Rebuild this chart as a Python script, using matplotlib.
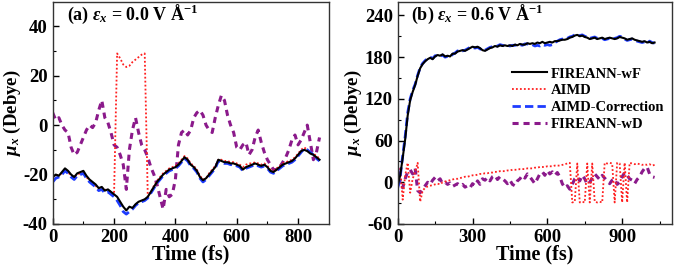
import matplotlib
matplotlib.use('Agg')
import matplotlib.pyplot as plt
import numpy as np

plt.rcParams['font.family'] = 'Liberation Serif'
plt.rcParams['font.weight'] = 'bold'
plt.rcParams['axes.labelweight'] = 'bold'
plt.rcParams['mathtext.fontset'] = 'custom'
plt.rcParams['mathtext.rm'] = 'Liberation Serif:bold'
plt.rcParams['mathtext.it'] = 'Liberation Serif:italic:bold'
plt.rcParams['mathtext.bf'] = 'Liberation Serif:bold'
plt.rcParams['axes.unicode_minus'] = False

# ---- panel (a): E = 0.0 V/A, every 10 fs ----
time_a = np.arange(0, 880, 10)
wF_a = [-21, -20, -20.5, -19, -17.5, -18.5, -20, -21, -19.5, -19,
        -18.5, -20.5, -22, -23, -24, -25.5, -25, -26.5, -26, -27,
        -28, -29, -31, -33, -34.5, -33, -33.5, -32, -31, -30.5,
        -30, -29, -27, -25, -23, -21.5, -20, -19, -18, -17.5,
        -17, -16, -14.5, -13, -14, -16, -17, -18.5, -21, -22.3,
        -21.5, -20, -18.5, -17, -14, -14.5, -15, -15, -15.5, -15.5,
        -16, -16.5, -18, -17, -16.5, -16, -15.5, -16, -16.5, -16,
        -17, -18.5, -19, -18, -17, -16, -15.5, -15, -14.5, -13.5,
        -12, -10.5, -10, -10.5, -11.5, -12, -13, -14]
aimd_a = [-21, -20.5, -20, -19.5, -18, -19, -20.5, -21, -20, -19.5,
          -19, -21, -22.5, -23.5, -24.5, -26, -25.5, -26, -26.5, -27,
          -28, 29, 27, 24.5, 23.5, 24, 25.5, 26.5, 27.5, 28.5,
          29, -29, -27, -24.5, -22.5, -21, -19.5, -18.5, -17.5, -17,
          -16.5, -15.5, -14, -12.5, -13.5, -15.5, -16.5, -18, -20.5, -22,
          -21.5, -19.5, -18, -16.5, -14, -14, -14.5, -14.5, -15, -15,
          -15.5, -16, -17, -16, -15.5, -15.5, -15, -15.5, -16, -15.5,
          -16.5, -18, -18.5, -17.5, -16.5, -15.5, -15, -14.5, -14, -13,
          -11.5, -10, -9, -10, -11, -11.5, -12.5, -13.5]
corr_a = [-23, -21.5, -21, -20, -18.5, -19.5, -21, -22, -20.5, -20,
          -19.5, -21.5, -23, -24, -25, -26.5, -26, -27.5, -27, -28,
          -29, -30.5, -32.5, -35, -36, -35, -34, -32.5, -31.5, -31,
          -30.5, -29.5, -27.5, -25.5, -23.5, -22, -20.5, -19.5, -18.5, -18,
          -17.5, -16.5, -15, -13.5, -14.5, -16.5, -17.5, -19, -21.5, -23,
          -22, -20.5, -19, -17.5, -14.5, -15, -15.5, -15.5, -16, -16,
          -16.5, -17, -18.5, -17.5, -17, -16.5, -16, -16.5, -17, -16.5,
          -17.5, -19, -19.5, -18.5, -17.5, -16.5, -16, -15.5, -15, -14,
          -12.5, -11, -9.5, -10, -11, -12, -13.5, -14.5]
wD_a = [5, 2, 3, 0, -2, -3, -9, -12, -11, -8,
        -5, -2, 0, -1, 1, 6, 10, 3, 1, -3,
        -8, -9, -12, -16, -26, -10, -2, 3, -3, -8,
        -10, -13, -17, -20, -24, -29, -34, -26, -29, -28,
        -22, -8, -3, -2, -4, -2, 3, 5, 6, 4,
        0, -2, -3, 3, 8, 12, 10, 4, 0, -3,
        -9, -10, -8, -7, -12, -10, -5, -2, -7, -11,
        -14, -16, -18, -18, -17, -15, -13, -10, -6, -4,
        -8, -6, -3, 0, -7, -14, -11, -5]

# ---- panel (b): E = 0.6 V/A, every 10 fs ----
time_b = np.arange(0, 1040, 10)
wF_b = [-5, 10, 35, 62, 96, 118, 130, 140, 153, 164,
        170, 174, 177, 179, 177, 181, 183, 182, 184, 181,
        182, 181, 185, 185, 188, 189, 190, 189, 191, 193,
        195, 194, 195, 193, 190, 189, 191, 193, 194, 196,
        195, 197, 196, 197, 196, 197, 196, 198, 197, 199,
        198, 198, 200, 199, 200, 199, 201, 200, 202, 200,
        201, 202, 201, 203, 203, 204, 205, 205, 206, 208,
        209, 211, 212, 210, 211, 209, 208, 206, 207, 208,
        206, 207, 208, 206, 207, 208, 207, 206, 207, 209,
        208, 207, 205, 206, 207, 205, 204, 203, 202, 203,
        201, 202, 200, 201]
corr_b = [-8, 8, 38, 66, 100, 120, 132, 141, 154, 165,
          171, 175, 178, 180, 178, 182, 182, 181, 183, 180,
          181, 180, 184, 186, 189, 188, 189, 190, 192, 194,
          194, 193, 194, 192, 189, 190, 192, 194, 195, 195,
          196, 198, 197, 196, 197, 196, 197, 197, 198, 198,
          197, 199, 199, 198, 198, 196, 197, 196, 198, 197,
          198, 197, 198, 201, 203, 205, 206, 206, 207, 209,
          210, 212, 211, 211, 212, 210, 209, 207, 208, 209,
          207, 208, 207, 205, 206, 207, 206, 207, 208, 210,
          209, 206, 204, 205, 206, 204, 203, 202, 201, 202,
          200, 203, 201, 200]
aimd_b = [-5, 20, -25, 10, 28, -15, 5, 15, 28, -28,
          -12, -8, -6, -5, -4, -3, -2, -3, 0, 1,
          2, 3, 4, 5, 5, 6, 7, 8, 8, 9,
          10, 10, 11, 12, 12, 13, 13, 14, 14, 15,
          15, 16, 16, 16, 17, 17, 18, 18, 18, 19,
          19, 19, 20, 20, 20, 21, 21, 22, 22, 22,
          23, 23, 23, 24, 24, 24, 25, 26, 27, 28,
          -29, -28, 27, -29, -28, -29, 27, -29, 27, -28,
          -29, -28, -29, 28, 27, 28, 27, -29, 28, 27,
          -29, 28, -29, 28, 27, 26, 27, 26, 25, 26,
          25, 26, 24, 25]
wD_b = [-5, 2, -8, 5, 15, 18, 12, 20, -12, -15,
        -10, -5, 0, -3, 3, 7, 2, 5, -2, 0,
        -3, -1, -6, -4, -2, -5, -3, -7, -5, -8,
        -2, -5, 2, -3, 5, 3, 7, 2, 8, 10,
        4, 8, 5, 2, -2, 3, -3, -5, 2, 5,
        10, 6, 12, 8, 3, -2, 5, 12, 15, 10,
        17, 12, 15, 10, 14, 8, -2, -8, -5, -10,
        -3, 5, 8, 2, 10, 5, -3, 0, 6, 12,
        8, 4, 10, 6, 2, -2, 3, 5, -3, 0,
        8, 14, 10, 5, 3, -2, 4, 8, 15, 20,
        22, 12, 8, 7]

labels = ['FIREANN-wF', 'AIMD', 'AIMD-Correction', 'FIREANN-wD']


def draw(ax, t, wf, aimd, corr, wd):
    ax.plot(t, wd, color='#8B1A8B', lw=2.2, ls=(0, (2, 1.6)), label=labels[3])
    ax.plot(t, aimd, color='#FF2020', lw=1.3, ls=(0, (1, 1.2)), label=labels[1])
    ax.plot(t, corr, color='#1E3CFF', lw=2.0, ls=(0, (3, 1.5)), label=labels[2])
    ax.plot(t, wf, color='black', lw=1.5, label=labels[0])


fig = plt.figure(figsize=(6.75, 2.69), dpi=100)
ax1 = fig.add_axes([0.0781, 0.1673, 0.4089, 0.8271])
ax2 = fig.add_axes([0.5892, 0.1673, 0.4064, 0.8271])

draw(ax1, time_a, wF_a, aimd_a, corr_a, wD_a)
draw(ax2, time_b, wF_b, aimd_b, corr_b, wD_b)

ax1.set_xlim(0, 900)
ax1.set_ylim(-40, 50)
ax1.set_xticks([0, 200, 400, 600, 800])
ax1.set_xticks(np.arange(100, 900, 200), minor=True)
ax1.set_yticks([-40, -20, 0, 20, 40])
ax1.set_yticks([-30, -10, 10, 30], minor=True)

ax2.set_xlim(0, 1100)
ax2.set_ylim(-60, 260)
ax2.set_xticks([0, 300, 600, 900])
ax2.set_xticks([150, 450, 750, 1050], minor=True)
ax2.set_yticks([-60, 0, 60, 120, 180, 240])
ax2.set_yticks([-30, 30, 90, 150, 210], minor=True)

for ax in (ax1, ax2):
    ax.tick_params(which='both', direction='in', labelsize=13.5, pad=3.5)
    ax.tick_params(which='major', length=4, width=1)
    ax.tick_params(which='minor', length=2.5, width=0.8)
    for s in ax.spines.values():
        s.set_linewidth(1.0)
        s.set_color('#333333')
    ax.set_xlabel('Time (fs)', fontsize=14.5, labelpad=-1)
    ax.set_ylabel(r'$\mu_x$ (Debye)', fontsize=13.5, va='center')

ax1.yaxis.set_label_coords(-0.145, 0.5)
ax2.yaxis.set_label_coords(-0.163, 0.5)

ax1.text(0.05, 0.94, r'(a) $\varepsilon_x$ = 0.0 V Å$^{-1}$', transform=ax1.transAxes,
         fontsize=13, va='center', ha='left')
ax2.text(0.05, 0.94, r'(b) $\varepsilon_x$ = 0.6 V Å$^{-1}$', transform=ax2.transAxes,
         fontsize=13, va='center', ha='left')

handles, labs = ax2.get_legend_handles_labels()
order = [3, 1, 2, 0]
ax2.legend([handles[i] for i in order], [labs[i] for i in order],
           loc='upper right', bbox_to_anchor=(1.01, 0.75), frameon=False,
           fontsize=10.5, handlelength=2.4, handletextpad=0.3,
           labelspacing=0.25, borderpad=0.2)

plt.savefig('out.png', dpi=100)
